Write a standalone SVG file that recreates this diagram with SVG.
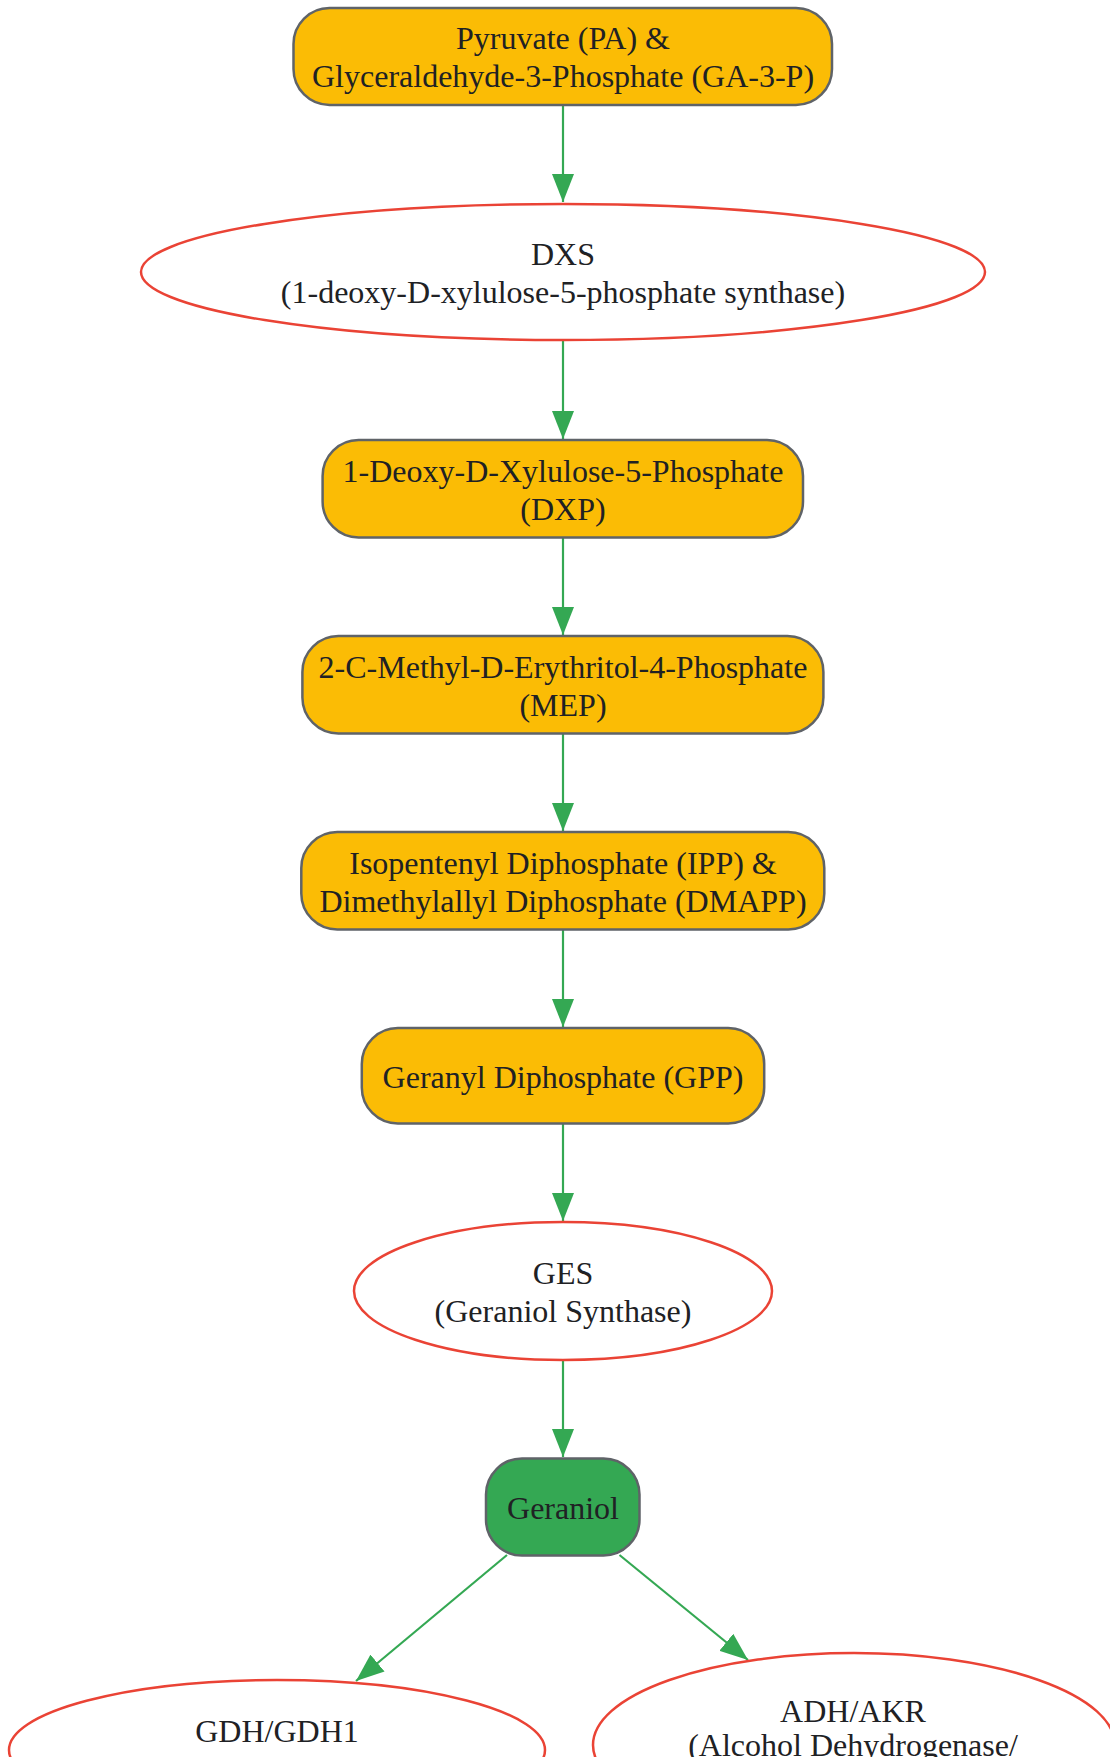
<svg xmlns="http://www.w3.org/2000/svg" width="1110" height="1757" viewBox="0 0 1110 1757">
<style>
.box{fill:#FBBC05;stroke:#5F6368;stroke-width:2.5}
.prod{fill:#34A853;stroke:#5F6368;stroke-width:2.5}
.enz{fill:#FFFFFF;stroke:#EA4335;stroke-width:2.5}
.t{font-family:"Liberation Serif","Times New Roman",serif;font-size:32px;fill:#202124;text-anchor:middle;dominant-baseline:central}
.e{fill:none;stroke:#34A853;stroke-width:2.2}
</style>
<defs>
<marker id="ah" markerUnits="userSpaceOnUse" markerWidth="28" markerHeight="22" refX="28" refY="11" orient="auto">
<path d="M0,0 L28,11 L0,22 z" fill="#34A853"/>
</marker>
</defs>
<rect width="1110" height="1757" fill="#FFFFFF"/>
<g id="edges">
<line class="e" x1="563" y1="105" x2="563" y2="202" marker-end="url(#ah)"/>
<line class="e" x1="563" y1="341" x2="563" y2="439" marker-end="url(#ah)"/>
<line class="e" x1="563" y1="538" x2="563" y2="635" marker-end="url(#ah)"/>
<line class="e" x1="563" y1="734" x2="563" y2="831" marker-end="url(#ah)"/>
<line class="e" x1="563" y1="930" x2="563" y2="1027" marker-end="url(#ah)"/>
<line class="e" x1="563" y1="1124" x2="563" y2="1221" marker-end="url(#ah)"/>
<line class="e" x1="563" y1="1360" x2="563" y2="1457" marker-end="url(#ah)"/>
<line class="e" x1="507" y1="1555" x2="356" y2="1681" marker-end="url(#ah)"/>
<line class="e" x1="619.5" y1="1555" x2="748" y2="1660" marker-end="url(#ah)"/>
</g>
<g id="pa_ga3p">
<rect class="box" x="293.5" y="8" width="538.5" height="97" rx="36"/>
<text class="t" x="563" y="38">Pyruvate (PA) &amp;</text>
<text class="t" x="563" y="76">Glyceraldehyde-3-Phosphate (GA-3-P)</text>
</g>
<g id="dxs">
<ellipse class="enz" cx="563" cy="272" rx="422" ry="68"/>
<text class="t" x="563" y="254">DXS</text>
<text class="t" x="563" y="292">(1-deoxy-D-xylulose-5-phosphate synthase)</text>
</g>
<g id="dxp">
<rect class="box" x="322.6" y="440" width="480.4" height="97.5" rx="36"/>
<text class="t" x="563" y="470.5">1-Deoxy-D-Xylulose-5-Phosphate</text>
<text class="t" x="563" y="508.5">(DXP)</text>
</g>
<g id="mep">
<rect class="box" x="302.4" y="636" width="521" height="97.5" rx="36"/>
<text class="t" x="563" y="666.5">2-C-Methyl-D-Erythritol-4-Phosphate</text>
<text class="t" x="563" y="704.5">(MEP)</text>
</g>
<g id="ipp_dmapp">
<rect class="box" x="301.3" y="832" width="523" height="97.5" rx="36"/>
<text class="t" x="563" y="862.5">Isopentenyl Diphosphate (IPP) &amp;</text>
<text class="t" x="563" y="900.5">Dimethylallyl Diphosphate (DMAPP)</text>
</g>
<g id="gpp">
<rect class="box" x="361.8" y="1028" width="402.4" height="95.5" rx="36"/>
<text class="t" x="563" y="1076.5">Geranyl Diphosphate (GPP)</text>
</g>
<g id="ges">
<ellipse class="enz" cx="563" cy="1291" rx="209" ry="69"/>
<text class="t" x="563" y="1272.5">GES</text>
<text class="t" x="563" y="1310.5">(Geraniol Synthase)</text>
</g>
<g id="geraniol">
<rect class="prod" x="486" y="1458.5" width="153.5" height="97" rx="36"/>
<text class="t" x="563" y="1507.5">Geraniol</text>
</g>
<g id="gdh">
<ellipse class="enz" cx="277" cy="1750" rx="268" ry="70"/>
<text class="t" x="277" y="1730.5">GDH/GDH1</text>
</g>
<g id="adh_akr">
<ellipse class="enz" cx="854" cy="1745" rx="261" ry="92"/>
<text class="t" x="853" y="1711">ADH/AKR</text>
<text class="t" x="853" y="1745">(Alcohol Dehydrogenase/</text>
</g>
</svg>
